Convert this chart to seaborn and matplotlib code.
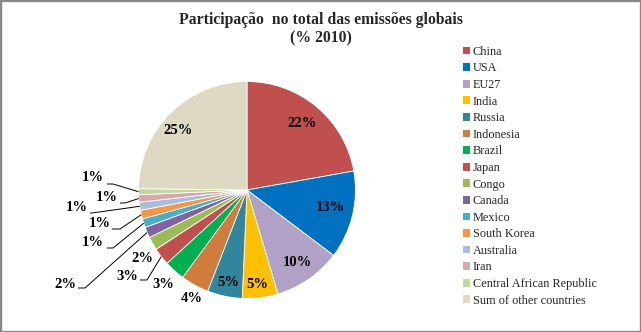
import numpy as np
import pandas as pd
import matplotlib
matplotlib.use("Agg")
import matplotlib.pyplot as plt
import seaborn as sns
from matplotlib.patches import Rectangle

# ---------------- data ----------------
countries = ["China", "USA", "EU27", "India", "Russia", "Indonesia", "Brazil",
             "Japan", "Congo", "Canada", "Mexico", "South Korea", "Australia",
             "Iran", "Central African Republic", "Sum of other countries"]
shares = [22.2, 13.1, 10.1, 5.3, 5.2, 4.2, 3.1, 2.6, 2.0, 1.6, 1.3, 1.3, 1.2,
          1.1, 0.9, 24.8]
title_lines = ["Participação  no total das emissões globais", "(% 2010)"]

# ---------------- style ----------------
palette = sns.color_palette(["#C0504D", "#0070C0", "#B2A1C7", "#FFC000",
                             "#31859C", "#D07C3C", "#00B050", "#C0504D",
                             "#9BBB59", "#8064A2", "#4BACC6", "#F79646",
                             "#A9BCDB", "#D9A6AA", "#C3D69B", "#DDD9C3"])

sns.set_theme(style="white")
plt.rcParams["font.family"] = ["Liberation Serif", "DejaVu Serif"]

W, H = 641, 332
fig = plt.figure(figsize=(W / 100, H / 100), dpi=100)

# pie geometry in pixels
CX, CY, R = 247.0, 190.0, 108.5
x0, x1, y0, y1 = -2.25, 1.3, -1.25, 1.25
ax = fig.add_axes([(CX + x0 * R) / W, (H - CY + y0 * R) / H,
                   (x1 - x0) * R / W, (y1 - y0) * R / H])

df = pd.DataFrame({"country": countries, "share": shares})
df["pct"] = df["share"] / df["share"].sum() * 100
df["label"] = [f"{round(p):.0f}%" for p in df["pct"]]

wedges, _ = ax.pie(df["share"], colors=palette, startangle=90,
                   counterclock=False, radius=1.0,
                   wedgeprops=dict(edgecolor="white", linewidth=0.6))
ax.set_xlim(x0, x1)
ax.set_ylim(y0, y1)
ax.set_aspect("auto")
ax.axis("off")


def px2d(px, py):
    return (px - CX) / R, (CY - py) / R


# label layout (pixel positions of text centers); elbow = start/end of the short
# horizontal leader segment, None = no leader
label_px = [(302, 123), (330, 207), (297, 262), (257, 284), (228, 283),
            (192, 298), (163, 284), (127, 277), (142, 259), (65, 284),
            (93, 242), (100, 223), (77, 207), (107, 197), (93, 177),
            (178, 130)]
elbows = [None, None, None, None, None, None, None,
          ((140, 280), (147, 280)), None, ((78, 288), (85, 288)),
          ((107, 248), (113, 248)), ((112, 229), (120, 229)),
          ((90, 213), (92, 213)), ((120, 203), (125, 203)),
          ((107, 184), (113, 184)), None]

for w, lab, pos, el in zip(wedges, df["label"], label_px, elbows):
    tx, ty = px2d(*pos)
    ax.text(tx, ty, lab, ha="center", va="center", fontsize=10.5,
            fontweight="bold", color="black")
    if el is not None:
        mid = np.deg2rad((w.theta1 + w.theta2) / 2)
        ex, ey = np.cos(mid), np.sin(mid)
        (ax1, ay1), (ax2, ay2) = px2d(*el[0]), px2d(*el[1])
        ax.plot([ax1, ax2, ex], [ay1, ay2, ey], color="black", lw=0.7,
                solid_capstyle="butt")

# legend
leg = fig.legend(wedges, countries, loc="upper left",
                 bbox_to_anchor=(458 / W, 1 - 41 / H), frameon=False,
                 fontsize=8.8, handlelength=0.6, handleheight=0.6,
                 handletextpad=0.2, labelspacing=0.375, borderaxespad=0)
for h in leg.legend_handles:
    h.set_edgecolor("none")

# title
fig.text(0.5, 1 - 20 / H, title_lines[0], ha="center", va="center",
         fontsize=11.3, fontweight="bold")
fig.text(0.5, 1 - 38.5 / H, title_lines[1], ha="center", va="center",
         fontsize=11.3, fontweight="bold")

# chart border
fig.patches.append(Rectangle((0, 0), 1, 1, transform=fig.transFigure,
                             fill=False, edgecolor="#878787", lw=2.4))

fig.savefig("out.png", dpi=100)
